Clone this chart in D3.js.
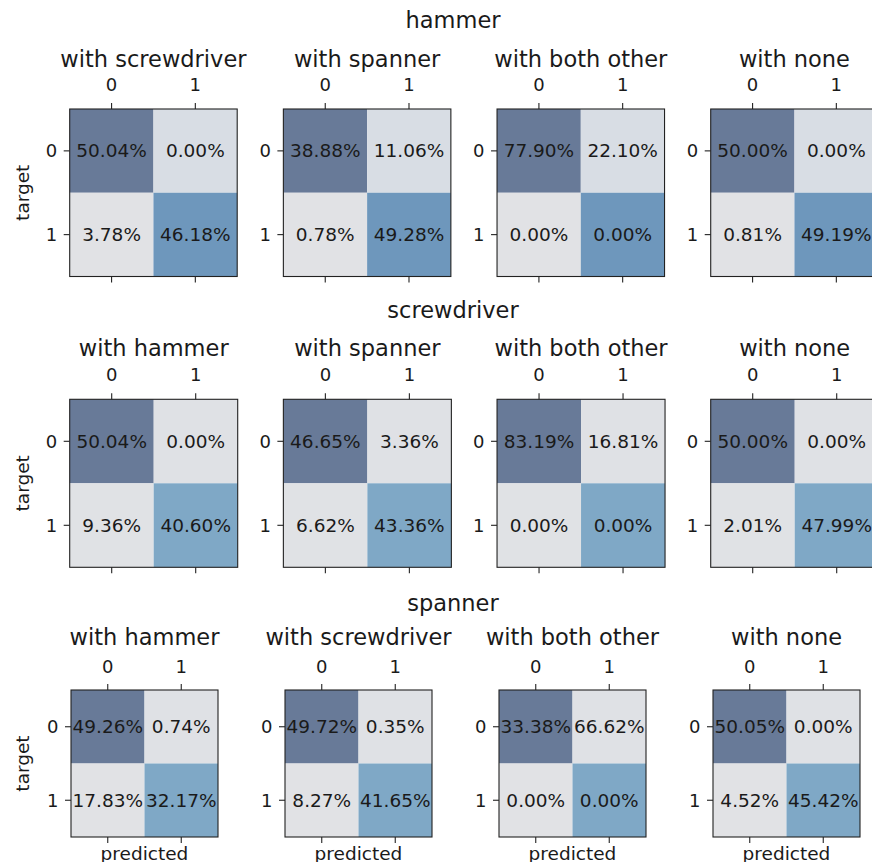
<!DOCTYPE html>
<html>
<head>
<meta charset="utf-8">
<script src="https://cdn.jsdelivr.net/npm/d3@7"></script>
<style>
  html, body { margin: 0; padding: 0; background: #fff; }
  svg { display: block; font-family: "DejaVu Sans", sans-serif; }
</style>
</head>
<body>
<svg id="chart" width="872" height="862"></svg>
<script>
// Tool whose detector is evaluated in each row of panels
const tools = ["hammer", "screwdriver", "spanner"];

// Context each confusion matrix was computed in
const contexts = [
  ["with screwdriver", "with spanner", "with both other", "with none"],
  ["with hammer", "with spanner", "with both other", "with none"],
  ["with hammer", "with screwdriver", "with both other", "with none"]
];

// Confusion matrices in percent, row-major: [t0p0, t0p1, t1p0, t1p1]
const hammerValues = [
  [50.04, 0.00, 3.78, 46.18],
  [38.88, 11.06, 0.78, 49.28],
  [77.90, 22.10, 0.00, 0.00],
  [50.00, 0.00, 0.81, 49.19]
];
const screwdriverValues = [
  [50.04, 0.00, 9.36, 40.60],
  [46.65, 3.36, 6.62, 43.36],
  [83.19, 16.81, 0.00, 0.00],
  [50.00, 0.00, 2.01, 47.99]
];
const spannerValues = [
  [49.26, 0.74, 17.83, 32.17],
  [49.72, 0.35, 8.27, 41.65],
  [33.38, 66.62, 0.00, 0.00],
  [50.05, 0.00, 4.52, 45.42]
];
const matrixValues = [hammerValues, screwdriverValues, spannerValues];

// Class labels on both axes
const classLabels = [0, 1];

// Cell colours by position in the matrix, one palette per tool row
const cellPalettes = [
  ["#687a98", "#d8dde4", "#e1e2e5", "#6e97bc"],
  ["#687a98", "#dfe1e5", "#e0e2e5", "#7fa8c6"],
  ["#687a98", "#dfe1e5", "#e1e2e5", "#7fa8c6"]
];

// Panel geometry for each row of the figure
const rowLayout = [
  { left: 69.7, step: 213.67, top: 109,   size: 167.5, supBase: 28,    titleBase: 66.7,  topBase: 90.7 },
  { left: 69.7, step: 213.67, top: 399.3, size: 168,   supBase: 318.3, titleBase: 355.5, topBase: 381 },
  { left: 71,   step: 214,    top: 690,   size: 147,   supBase: 610.7, titleBase: 645,   topBase: 673 }
];

const svg = d3.select("#chart");
svg.append("rect").attr("width", 872).attr("height", 862).attr("fill", "#fff");

const fmt = d3.format(".2f");
const textColor = "#1a1a1a";
const tickFont = 18, cellFont = 18.5, titleFont = 22.5, labelFont = 18.5;
const tickLen = 6;

function label(sel, x, y, text, size, anchor) {
  return sel.append("text")
    .attr("x", x).attr("y", y)
    .attr("text-anchor", anchor || "middle")
    .style("font-size", size + "px")
    .attr("fill", textColor)
    .text(text);
}

tools.forEach((tool, r) => {
  const L = rowLayout[r];

  label(svg, 453, L.supBase, tool, titleFont);

  matrixValues[r].forEach((vals, c) => {
    const x0 = L.left + c * L.step;
    const g = svg.append("g").attr("transform", `translate(${x0},${L.top})`);

    const x = d3.scaleBand().domain(classLabels).range([0, L.size]);
    const y = d3.scaleBand().domain(classLabels).range([0, L.size]);

    const cells = vals.map((v, i) => ({ t: Math.floor(i / 2), p: i % 2, v, i }));

    g.selectAll("rect.cell").data(cells).join("rect")
      .attr("class", "cell")
      .attr("x", d => x(d.p))
      .attr("y", d => y(d.t))
      .attr("width", x.bandwidth())
      .attr("height", y.bandwidth())
      .attr("fill", d => cellPalettes[r][d.i]);

    g.selectAll("text.val").data(cells).join("text")
      .attr("class", "val")
      .attr("x", d => x(d.p) + x.bandwidth() / 2)
      .attr("y", d => y(d.t) + y.bandwidth() / 2)
      .attr("text-anchor", "middle")
      .attr("dominant-baseline", "central")
      .style("font-size", cellFont + "px")
      .attr("fill", textColor)
      .text(d => fmt(d.v) + "%");

    // frame
    g.append("rect")
      .attr("width", L.size).attr("height", L.size)
      .attr("fill", "none").attr("stroke", "#222").attr("stroke-width", 1.1);

    // tick marks on top, bottom and left
    const axes = [
      g.append("g").call(d3.axisTop(x).tickSize(tickLen).tickFormat("")),
      g.append("g").attr("transform", `translate(0,${L.size})`)
        .call(d3.axisBottom(x).tickSize(tickLen).tickFormat("")),
      g.append("g").call(d3.axisLeft(y).tickSize(tickLen).tickFormat(""))
    ];
    axes.forEach(a => {
      a.select(".domain").remove();
      a.selectAll(".tick line").attr("stroke", "#222").attr("stroke-width", 1.1);
      a.selectAll(".tick text").remove();
    });

    // class labels on top and left, placed from the same band scales
    classLabels.forEach(k => {
      label(g, x(k) + x.bandwidth() / 2, L.topBase - L.top, String(k), tickFont);
      label(g, -tickLen - 6.5, y(k) + y.bandwidth() / 2, String(k), tickFont, "end")
        .attr("dominant-baseline", "central");
    });

    label(g, L.size / 2, L.titleBase - L.top, contexts[r][c], titleFont);

    if (c === 0) {
      g.append("text")
        .attr("transform", `translate(${29 - x0},${L.size / 2}) rotate(-90)`)
        .attr("text-anchor", "middle")
        .style("font-size", labelFont + "px")
        .attr("fill", textColor)
        .text("target");
    }
    if (r === tools.length - 1) {
      label(g, L.size / 2, 859.5 - L.top, "predicted", labelFont);
    }
  });
});
</script>
</body>
</html>
